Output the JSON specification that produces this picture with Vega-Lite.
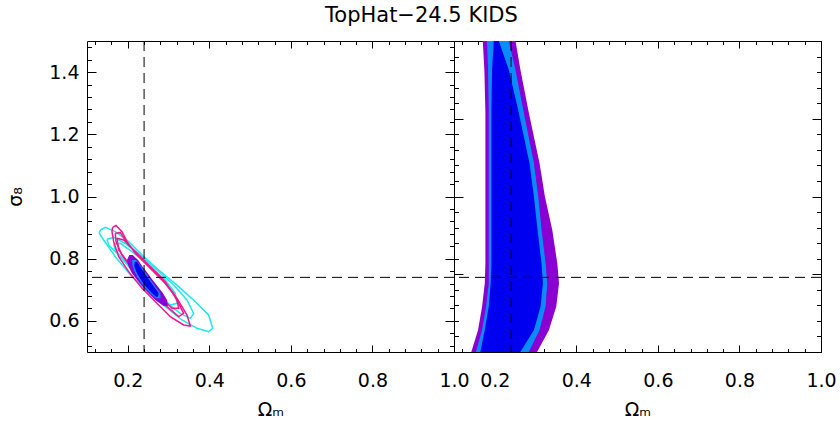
{
  "$schema": "https://vega.github.io/schema/vega-lite/v6.json",
  "background": "white",
  "padding": {"left": 6, "top": 5, "right": 5, "bottom": 5},
  "bounds": "flush",
  "spacing": 0,
  "title": {"text": "TopHat−24.5 KIDS", "fontSize": 21, "fontWeight": "normal", "font": "DejaVu Sans", "color": "black", "anchor": "middle", "offset": 14},
  "config": {
    "view": {"stroke": "black", "strokeWidth": 1},
    "font": "DejaVu Sans",
    "axis": {"domain": false, "grid": false, "tickColor": "black", "tickWidth": 1, "labelFont": "DejaVu Sans", "labelFontSize": 19, "labelColor": "black", "titleFont": "DejaVu Sans", "titleFontSize": 19, "titleFontWeight": "normal", "titleColor": "black", "labelFlush": false, "labelOverlap": false}
  },
  "datasets": {
    "cyan": [
      {"id": "c1", "i": 0, "om": 0.1327, "s8": 0.8923}, {"id": "c1", "i": 1, "om": 0.1450, "s8": 0.9009}, {"id": "c1", "i": 2, "om": 0.1695, "s8": 0.8869}, {"id": "c1", "i": 3, "om": 0.2022, "s8": 0.8548}, {"id": "c1", "i": 4, "om": 0.2349, "s8": 0.8119}, {"id": "c1", "i": 5, "om": 0.2757, "s8": 0.7637}, {"id": "c1", "i": 6, "om": 0.3248, "s8": 0.7101}, {"id": "c1", "i": 7, "om": 0.3656, "s8": 0.6618}, {"id": "c1", "i": 8, "om": 0.3983, "s8": 0.6190}, {"id": "c1", "i": 9, "om": 0.4081, "s8": 0.5761}, {"id": "c1", "i": 10, "om": 0.3983, "s8": 0.5654}, {"id": "c1", "i": 11, "om": 0.3697, "s8": 0.5761}, {"id": "c1", "i": 12, "om": 0.3329, "s8": 0.6029}, {"id": "c1", "i": 13, "om": 0.2921, "s8": 0.6458}, {"id": "c1", "i": 14, "om": 0.2512, "s8": 0.6886}, {"id": "c1", "i": 15, "om": 0.2103, "s8": 0.7422}, {"id": "c1", "i": 16, "om": 0.1695, "s8": 0.8065}, {"id": "c1", "i": 17, "om": 0.1409, "s8": 0.8601}, {"id": "c1", "i": 18, "om": 0.1302, "s8": 0.8816}, {"id": "c1", "i": 19, "om": 0.1327, "s8": 0.8923},
      {"id": "c2", "i": 0, "om": 0.1490, "s8": 0.8623}, {"id": "c2", "i": 1, "om": 0.1654, "s8": 0.8687}, {"id": "c2", "i": 2, "om": 0.1940, "s8": 0.8494}, {"id": "c2", "i": 3, "om": 0.2308, "s8": 0.8119}, {"id": "c2", "i": 4, "om": 0.2716, "s8": 0.7637}, {"id": "c2", "i": 5, "om": 0.3125, "s8": 0.7154}, {"id": "c2", "i": 6, "om": 0.3452, "s8": 0.6672}, {"id": "c2", "i": 7, "om": 0.3615, "s8": 0.6243}, {"id": "c2", "i": 8, "om": 0.3534, "s8": 0.6083}, {"id": "c2", "i": 9, "om": 0.3289, "s8": 0.6243}, {"id": "c2", "i": 10, "om": 0.2921, "s8": 0.6618}, {"id": "c2", "i": 11, "om": 0.2512, "s8": 0.7101}, {"id": "c2", "i": 12, "om": 0.2103, "s8": 0.7637}, {"id": "c2", "i": 13, "om": 0.1736, "s8": 0.8173}, {"id": "c2", "i": 14, "om": 0.1531, "s8": 0.8441}, {"id": "c2", "i": 15, "om": 0.1490, "s8": 0.8623},
      {"id": "c3", "i": 0, "om": 0.1654, "s8": 0.8473}, {"id": "c3", "i": 1, "om": 0.1817, "s8": 0.8494}, {"id": "c3", "i": 2, "om": 0.2103, "s8": 0.8226}, {"id": "c3", "i": 3, "om": 0.2512, "s8": 0.7798}, {"id": "c3", "i": 4, "om": 0.2921, "s8": 0.7315}, {"id": "c3", "i": 5, "om": 0.3166, "s8": 0.6886}, {"id": "c3", "i": 6, "om": 0.3207, "s8": 0.6565}, {"id": "c3", "i": 7, "om": 0.3043, "s8": 0.6511}, {"id": "c3", "i": 8, "om": 0.2757, "s8": 0.6833}, {"id": "c3", "i": 9, "om": 0.2349, "s8": 0.7315}, {"id": "c3", "i": 10, "om": 0.1940, "s8": 0.7905}, {"id": "c3", "i": 11, "om": 0.1695, "s8": 0.8280}, {"id": "c3", "i": 12, "om": 0.1654, "s8": 0.8473}
    ],
    "magenta": [
      {"id": "m1", "i": 0, "om": 0.1629, "s8": 0.9009}, {"id": "m1", "i": 1, "om": 0.1711, "s8": 0.9073}, {"id": "m1", "i": 2, "om": 0.1858, "s8": 0.8869}, {"id": "m1", "i": 3, "om": 0.1981, "s8": 0.8548}, {"id": "m1", "i": 4, "om": 0.2185, "s8": 0.8173}, {"id": "m1", "i": 5, "om": 0.2512, "s8": 0.7744}, {"id": "m1", "i": 6, "om": 0.2880, "s8": 0.7262}, {"id": "m1", "i": 7, "om": 0.3207, "s8": 0.6726}, {"id": "m1", "i": 8, "om": 0.3452, "s8": 0.6190}, {"id": "m1", "i": 9, "om": 0.3534, "s8": 0.5836}, {"id": "m1", "i": 10, "om": 0.3370, "s8": 0.5868}, {"id": "m1", "i": 11, "om": 0.3043, "s8": 0.6136}, {"id": "m1", "i": 12, "om": 0.2716, "s8": 0.6565}, {"id": "m1", "i": 13, "om": 0.2349, "s8": 0.7047}, {"id": "m1", "i": 14, "om": 0.2022, "s8": 0.7583}, {"id": "m1", "i": 15, "om": 0.1777, "s8": 0.8065}, {"id": "m1", "i": 16, "om": 0.1654, "s8": 0.8548}, {"id": "m1", "i": 17, "om": 0.1613, "s8": 0.8869}, {"id": "m1", "i": 18, "om": 0.1629, "s8": 0.9009},
      {"id": "m2", "i": 0, "om": 0.1736, "s8": 0.8655}, {"id": "m2", "i": 1, "om": 0.1899, "s8": 0.8601}, {"id": "m2", "i": 2, "om": 0.2144, "s8": 0.8280}, {"id": "m2", "i": 3, "om": 0.2512, "s8": 0.7798}, {"id": "m2", "i": 4, "om": 0.2921, "s8": 0.7262}, {"id": "m2", "i": 5, "om": 0.3207, "s8": 0.6672}, {"id": "m2", "i": 6, "om": 0.3248, "s8": 0.6404}, {"id": "m2", "i": 7, "om": 0.3084, "s8": 0.6404}, {"id": "m2", "i": 8, "om": 0.2798, "s8": 0.6779}, {"id": "m2", "i": 9, "om": 0.2389, "s8": 0.7315}, {"id": "m2", "i": 10, "om": 0.2022, "s8": 0.7851}, {"id": "m2", "i": 11, "om": 0.1777, "s8": 0.8280}, {"id": "m2", "i": 12, "om": 0.1736, "s8": 0.8655},
      {"id": "m3", "i": 0, "om": 0.1695, "s8": 0.8816}, {"id": "m3", "i": 1, "om": 0.1817, "s8": 0.8837}, {"id": "m3", "i": 2, "om": 0.2022, "s8": 0.8441}, {"id": "m3", "i": 3, "om": 0.2349, "s8": 0.8012}, {"id": "m3", "i": 4, "om": 0.2757, "s8": 0.7476}, {"id": "m3", "i": 5, "om": 0.3125, "s8": 0.6886}, {"id": "m3", "i": 6, "om": 0.3370, "s8": 0.6243}, {"id": "m3", "i": 7, "om": 0.3248, "s8": 0.6136}, {"id": "m3", "i": 8, "om": 0.2962, "s8": 0.6458}, {"id": "m3", "i": 9, "om": 0.2594, "s8": 0.6940}, {"id": "m3", "i": 10, "om": 0.2185, "s8": 0.7530}, {"id": "m3", "i": 11, "om": 0.1858, "s8": 0.8119}, {"id": "m3", "i": 12, "om": 0.1711, "s8": 0.8548}, {"id": "m3", "i": 13, "om": 0.1695, "s8": 0.8816}
    ],
    "purpleL": [
      {"s8": 0.8119, "lo": 0.2038, "hi": 0.2120}, {"s8": 0.7958, "lo": 0.1981, "hi": 0.2251}, {"s8": 0.7744, "lo": 0.2022, "hi": 0.2365}, {"s8": 0.7530, "lo": 0.2103, "hi": 0.2488}, {"s8": 0.7315, "lo": 0.2226, "hi": 0.2610}, {"s8": 0.7101, "lo": 0.2365, "hi": 0.2741}, {"s8": 0.6886, "lo": 0.2512, "hi": 0.2863}, {"s8": 0.6672, "lo": 0.2676, "hi": 0.2962}, {"s8": 0.6479, "lo": 0.2880, "hi": 0.2986}
    ],
    "lightL": [
      {"s8": 0.7958, "lo": 0.2103, "hi": 0.2202}, {"s8": 0.7744, "lo": 0.2120, "hi": 0.2332}, {"s8": 0.7530, "lo": 0.2185, "hi": 0.2447}, {"s8": 0.7315, "lo": 0.2283, "hi": 0.2561}, {"s8": 0.7101, "lo": 0.2414, "hi": 0.2676}, {"s8": 0.6886, "lo": 0.2553, "hi": 0.2798}, {"s8": 0.6726, "lo": 0.2692, "hi": 0.2806}
    ],
    "blueL": [
      {"s8": 0.7905, "lo": 0.2169, "hi": 0.2226}, {"s8": 0.7744, "lo": 0.2161, "hi": 0.2308}, {"s8": 0.7530, "lo": 0.2226, "hi": 0.2414}, {"s8": 0.7315, "lo": 0.2324, "hi": 0.2528}, {"s8": 0.7101, "lo": 0.2447, "hi": 0.2643}, {"s8": 0.6886, "lo": 0.2594, "hi": 0.2757}, {"s8": 0.6779, "lo": 0.2692, "hi": 0.2741}
    ],
    "purpleR": [
      {"s8": 1.56, "lo": 0.169, "hi": 0.240}, {"s8": 1.5, "lo": 0.1706, "hi": 0.2508}, {"s8": 1.407, "lo": 0.1745, "hi": 0.263}, {"s8": 1.268, "lo": 0.177, "hi": 0.2837}, {"s8": 1.107, "lo": 0.177, "hi": 0.3098}, {"s8": 0.999, "lo": 0.177, "hi": 0.323}, {"s8": 0.892, "lo": 0.177, "hi": 0.341}, {"s8": 0.785, "lo": 0.177, "hi": 0.3533}, {"s8": 0.721, "lo": 0.1755, "hi": 0.3575}, {"s8": 0.646, "lo": 0.1689, "hi": 0.3508}, {"s8": 0.571, "lo": 0.159, "hi": 0.3329}, {"s8": 0.501, "lo": 0.1426, "hi": 0.3041}, {"s8": 0.49, "lo": 0.140, "hi": 0.300}
    ],
    "lightR": [
      {"s8": 1.56, "lo": 0.180, "hi": 0.225}, {"s8": 1.5, "lo": 0.181, "hi": 0.2345}, {"s8": 1.407, "lo": 0.1836, "hi": 0.2508}, {"s8": 1.268, "lo": 0.1853, "hi": 0.2714}, {"s8": 1.107, "lo": 0.1853, "hi": 0.296}, {"s8": 0.999, "lo": 0.1853, "hi": 0.3066}, {"s8": 0.892, "lo": 0.1853, "hi": 0.3147}, {"s8": 0.785, "lo": 0.1853, "hi": 0.3245}, {"s8": 0.721, "lo": 0.1853, "hi": 0.3287}, {"s8": 0.646, "lo": 0.1787, "hi": 0.3245}, {"s8": 0.571, "lo": 0.1689, "hi": 0.3098}, {"s8": 0.501, "lo": 0.1541, "hi": 0.2837}, {"s8": 0.49, "lo": 0.152, "hi": 0.280}
    ],
    "blueR": [
      {"s8": 1.56, "lo": 0.199, "hi": 0.200}, {"s8": 1.5, "lo": 0.1976, "hi": 0.2099}, {"s8": 1.407, "lo": 0.1934, "hi": 0.2345}, {"s8": 1.268, "lo": 0.1917, "hi": 0.2591}, {"s8": 1.107, "lo": 0.1917, "hi": 0.2852}, {"s8": 0.999, "lo": 0.1917, "hi": 0.296}, {"s8": 0.892, "lo": 0.1917, "hi": 0.3048}, {"s8": 0.785, "lo": 0.1917, "hi": 0.3147}, {"s8": 0.721, "lo": 0.19, "hi": 0.3181}, {"s8": 0.646, "lo": 0.1853, "hi": 0.3122}, {"s8": 0.571, "lo": 0.1755, "hi": 0.296}, {"s8": 0.501, "lo": 0.1647, "hi": 0.263}, {"s8": 0.49, "lo": 0.162, "hi": 0.258}
    ],
    "refx": [{"v": 0.24}],
    "refy": [{"v": 0.74}]
  },
  "hconcat": [
    {
      "width": 367, "height": 311,
      "resolve": {"axis": {"x": "independent", "y": "independent"}},
      "layer": [
        {
          "data": {"name": "cyan"},
          "mark": {"type": "line", "color": "#1ee8f0", "strokeWidth": 1.5, "clip": true},
          "encoding": {
            "x": {"field": "om", "type": "quantitative", "scale": {"domain": [0.1, 1.0], "nice": false, "zero": false},
                  "axis": {"orient": "bottom", "values": [0.2, 0.4, 0.6, 0.8, 1.0], "tickSize": -7, "labelPadding": 26, "format": ".1f", "title": "Ωₘ", "titlePadding": 10}},
            "y": {"field": "s8", "type": "quantitative", "scale": {"domain": [0.5, 1.5], "nice": false, "zero": false},
                  "axis": {"orient": "left", "values": [0.6, 0.8, 1.0, 1.2, 1.4], "tickSize": -9, "labelPadding": 17, "format": ".1f", "title": "σ₈", "titlePadding": 23}},
            "detail": {"field": "id"},
            "order": {"field": "i", "type": "quantitative"}
          }
        },
        {
          "data": {"name": "magenta"},
          "mark": {"type": "line", "color": "#f5168e", "strokeWidth": 1.5, "clip": true},
          "encoding": {
            "x": {"field": "om", "type": "quantitative", "scale": {"domain": [0.1, 1.0], "nice": false, "zero": false},
                  "axis": {"orient": "bottom", "values": [0.12, 0.16, 0.24, 0.28, 0.32, 0.36, 0.44, 0.48, 0.52, 0.56, 0.64, 0.68, 0.72, 0.76, 0.84, 0.88, 0.92, 0.96], "tickSize": -3.5, "labels": false, "title": null}},
            "y": {"field": "s8", "type": "quantitative", "scale": {"domain": [0.5, 1.5], "nice": false, "zero": false},
                  "axis": {"orient": "left", "values": [0.52, 0.56, 0.64, 0.68, 0.72, 0.76, 0.84, 0.88, 0.92, 0.96, 1.04, 1.08, 1.12, 1.16, 1.24, 1.28, 1.32, 1.36, 1.44, 1.48], "tickSize": -4.5, "labels": false, "title": null}},
            "detail": {"field": "id"},
            "order": {"field": "i", "type": "quantitative"}
          }
        },
        {
          "data": {"name": "purpleL"},
          "mark": {"type": "area", "orient": "horizontal", "color": "#8a00d2", "opacity": 1, "clip": true},
          "encoding": {
            "y": {"field": "s8", "type": "quantitative", "scale": {"domain": [0.5, 1.5], "nice": false, "zero": false},
                  "axis": {"orient": "right", "values": [0.6, 0.8, 1.0, 1.2, 1.4], "tickSize": -9, "labels": false, "title": null}},
            "x": {"field": "lo", "type": "quantitative", "scale": {"domain": [0.1, 1.0], "nice": false, "zero": false},
                  "axis": {"orient": "top", "values": [0.2, 0.4, 0.6, 0.8, 1.0], "tickSize": -7, "labels": false, "title": null}},
            "x2": {"field": "hi"}
          }
        },
        {
          "data": {"name": "lightL"},
          "mark": {"type": "area", "orient": "horizontal", "color": "#0a8cff", "opacity": 1, "clip": true},
          "encoding": {
            "y": {"field": "s8", "type": "quantitative", "scale": {"domain": [0.5, 1.5], "nice": false, "zero": false},
                  "axis": {"orient": "right", "values": [0.52, 0.56, 0.64, 0.68, 0.72, 0.76, 0.84, 0.88, 0.92, 0.96, 1.04, 1.08, 1.12, 1.16, 1.24, 1.28, 1.32, 1.36, 1.44, 1.48], "tickSize": -4.5, "labels": false, "title": null}},
            "x": {"field": "lo", "type": "quantitative", "scale": {"domain": [0.1, 1.0], "nice": false, "zero": false},
                  "axis": {"orient": "top", "values": [0.12, 0.16, 0.24, 0.28, 0.32, 0.36, 0.44, 0.48, 0.52, 0.56, 0.64, 0.68, 0.72, 0.76, 0.84, 0.88, 0.92, 0.96], "tickSize": -3.5, "labels": false, "title": null}},
            "x2": {"field": "hi"}
          }
        },
        {
          "data": {"name": "blueL"},
          "mark": {"type": "area", "orient": "horizontal", "color": "#0000f0", "opacity": 1, "clip": true},
          "encoding": {
            "y": {"field": "s8", "type": "quantitative", "scale": {"domain": [0.5, 1.5], "nice": false, "zero": false}, "axis": null},
            "x": {"field": "lo", "type": "quantitative", "scale": {"domain": [0.1, 1.0], "nice": false, "zero": false}, "axis": null},
            "x2": {"field": "hi"}
          }
        },
        {
          "data": {"name": "refx"},
          "mark": {"type": "rule", "color": "black", "strokeWidth": 1, "strokeDash": [10, 6]},
          "encoding": {"x": {"field": "v", "type": "quantitative", "scale": {"domain": [0.1, 1.0], "nice": false, "zero": false}, "axis": null}}
        },
        {
          "data": {"name": "refy"},
          "mark": {"type": "rule", "color": "black", "strokeWidth": 1, "strokeDash": [10, 6]},
          "encoding": {"y": {"field": "v", "type": "quantitative", "scale": {"domain": [0.5, 1.5], "nice": false, "zero": false}, "axis": null}}
        }
      ]
    },
    {
      "width": 367, "height": 311,
      "resolve": {"axis": {"x": "independent", "y": "independent"}},
      "layer": [
        {
          "data": {"name": "purpleR"},
          "mark": {"type": "area", "orient": "horizontal", "color": "#8a00d2", "opacity": 1, "clip": true},
          "encoding": {
            "y": {"field": "s8", "type": "quantitative", "scale": {"domain": [0.5, 1.5], "nice": false, "zero": false},
                  "axis": {"orient": "left", "values": [0.5, 0.75, 1.0, 1.25, 1.5], "tickSize": -9, "labels": false, "title": null}},
            "x": {"field": "lo", "type": "quantitative", "scale": {"domain": [0.1, 1.0], "nice": false, "zero": false},
                  "axis": {"orient": "bottom", "values": [0.2, 0.4, 0.6, 0.8, 1.0], "tickSize": -7, "labelPadding": 26, "format": ".1f", "title": "Ωₘ", "titlePadding": 10}},
            "x2": {"field": "hi"}
          }
        },
        {
          "data": {"name": "lightR"},
          "mark": {"type": "area", "orient": "horizontal", "color": "#0a8cff", "opacity": 1, "clip": true},
          "encoding": {
            "y": {"field": "s8", "type": "quantitative", "scale": {"domain": [0.5, 1.5], "nice": false, "zero": false},
                  "axis": {"orient": "left", "values": [0.55, 0.6, 0.65, 0.7, 0.8, 0.85, 0.9, 0.95, 1.05, 1.1, 1.15, 1.2, 1.3, 1.35, 1.4, 1.45], "tickSize": -4.5, "labels": false, "title": null}},
            "x": {"field": "lo", "type": "quantitative", "scale": {"domain": [0.1, 1.0], "nice": false, "zero": false},
                  "axis": {"orient": "bottom", "values": [0.12, 0.16, 0.24, 0.28, 0.32, 0.36, 0.44, 0.48, 0.52, 0.56, 0.64, 0.68, 0.72, 0.76, 0.84, 0.88, 0.92, 0.96], "tickSize": -3.5, "labels": false, "title": null}},
            "x2": {"field": "hi"}
          }
        },
        {
          "data": {"name": "blueR"},
          "mark": {"type": "area", "orient": "horizontal", "color": "#0000f0", "opacity": 1, "clip": true},
          "encoding": {
            "y": {"field": "s8", "type": "quantitative", "scale": {"domain": [0.5, 1.5], "nice": false, "zero": false},
                  "axis": {"orient": "right", "values": [0.5, 0.75, 1.0, 1.25, 1.5], "tickSize": -9, "labels": false, "title": null}},
            "x": {"field": "lo", "type": "quantitative", "scale": {"domain": [0.1, 1.0], "nice": false, "zero": false},
                  "axis": {"orient": "top", "values": [0.2, 0.4, 0.6, 0.8, 1.0], "tickSize": -7, "labels": false, "title": null}},
            "x2": {"field": "hi"}
          }
        },
        {
          "data": {"name": "refx"},
          "mark": {"type": "rule", "color": "black", "strokeWidth": 1, "strokeDash": [10, 6]},
          "encoding": {"x": {"field": "v", "type": "quantitative", "scale": {"domain": [0.1, 1.0], "nice": false, "zero": false},
                  "axis": {"orient": "top", "values": [0.12, 0.16, 0.24, 0.28, 0.32, 0.36, 0.44, 0.48, 0.52, 0.56, 0.64, 0.68, 0.72, 0.76, 0.84, 0.88, 0.92, 0.96], "tickSize": -3.5, "labels": false, "title": null}}}
        },
        {
          "data": {"name": "refy"},
          "mark": {"type": "rule", "color": "black", "strokeWidth": 1, "strokeDash": [10, 6]},
          "encoding": {"y": {"field": "v", "type": "quantitative", "scale": {"domain": [0.5, 1.5], "nice": false, "zero": false},
                  "axis": {"orient": "right", "values": [0.55, 0.6, 0.65, 0.7, 0.8, 0.85, 0.9, 0.95, 1.05, 1.1, 1.15, 1.2, 1.3, 1.35, 1.4, 1.45], "tickSize": -4.5, "labels": false, "title": null}}}
        }
      ]
    }
  ]
}
